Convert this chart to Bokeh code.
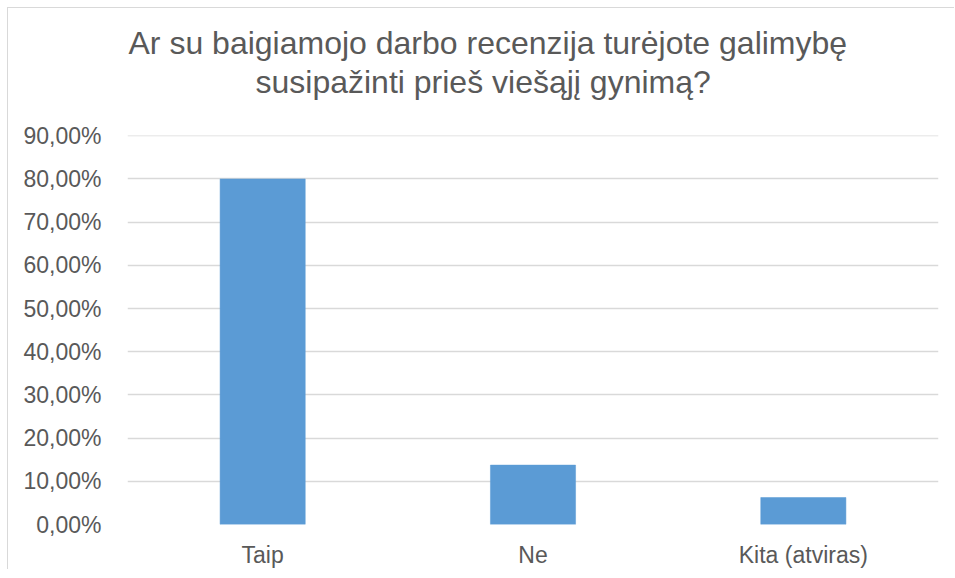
from bokeh.plotting import figure
from bokeh.models import ColumnDataSource, FactorRange, Range1d, Title, FixedTicker
from bokeh.embed import file_html
from bokeh.resources import INLINE

categories = ["Taip", "Ne", "Kita (atviras)"]
shares = [0.80, 0.1375, 0.0625]
tick_values = [0.0, 0.1, 0.2, 0.3, 0.4, 0.5, 0.6, 0.7, 0.8, 0.9]
tick_labels = ["0,00%", "10,00%", "20,00%", "30,00%", "40,00%", "50,00%",
               "60,00%", "70,00%", "80,00%", "90,00%"]
title_lines = ["Ar su baigiamojo darbo recenzija turėjote galimybę",
               "susipažinti prieš viešąjį gynimą?"]

FONT = "Liberation Sans"
GREY = "#595959"

p = figure(x_range=FactorRange(*categories), y_range=Range1d(0, 0.9005),
           width=947, height=562, output_backend="svg", toolbar_location=None,
           min_border_left=119, min_border_right=17, min_border_top=127,
           min_border_bottom=45)
p.styles = {"margin-left": "7px", "margin-top": "7px",
            "border-left": "1px solid #d9d9d9", "border-top": "1px solid #d9d9d9"}
p.outline_line_color = None

src = ColumnDataSource(dict(cat=categories, val=shares))
p.vbar(x="cat", top="val", width=0.315, source=src, fill_color="#5B9BD5",
       line_color="#5B9BD5", line_width=0.5)

p.yaxis.ticker = FixedTicker(ticks=tick_values)
p.yaxis.major_label_overrides = {v: l for v, l in zip(tick_values, tick_labels)}
for ax in (p.xaxis[0], p.yaxis[0]):
    ax.axis_line_color = None
    ax.major_tick_line_color = None
    ax.minor_tick_line_color = None
    ax.major_label_text_font = FONT
    ax.major_label_text_font_size = "23px"
    ax.major_label_text_color = GREY
p.yaxis.major_label_standoff = 20
p.xaxis.major_label_standoff = 11

p.xgrid.grid_line_color = None
p.ygrid.ticker = FixedTicker(ticks=tick_values)
p.ygrid.grid_line_color = "#d9d9d9"
p.ygrid.grid_line_width = 1.3

# spacer between the title and the plot frame
p.add_layout(Title(text=" ", standoff=22, text_font=FONT, text_font_size="10px"), "above")
# Two-line title: second line nearest the frame is added first
p.add_layout(Title(text=title_lines[1], align="left", offset=128, standoff=2,
                   text_font=FONT, text_font_size="32px", text_color=GREY,
                   text_font_style="normal"), "above")
p.add_layout(Title(text=title_lines[0], align="left", offset=1, standoff=0,
                   text_font=FONT, text_font_size="32px", text_color=GREY,
                   text_font_style="normal"), "above")

open("out.html", "w").write(file_html(p, INLINE))
